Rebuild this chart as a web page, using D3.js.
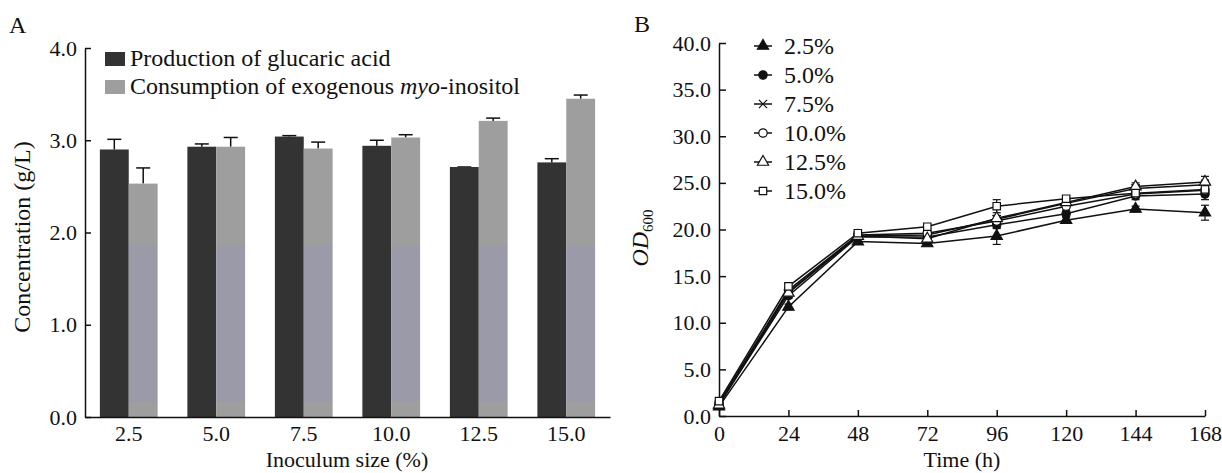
<!DOCTYPE html>
<html>
<head>
<meta charset="utf-8">
<script src="https://cdn.jsdelivr.net/npm/d3@7"></script>
<style>
  body { margin: 0; background: #fff; }
  svg { display: block; }
  svg text { font-family: "Liberation Serif", "DejaVu Serif", serif !important; fill: #111; }
</style>
</head>
<body>
<svg id="chart" width="1222" height="473"></svg>
<script>
// panel A data: inoculum size vs glucaric acid / myo-inositol (g/L)
var inoculum = ["2.5", "5.0", "7.5", "10.0", "12.5", "15.0"];
var glucaric = [2.90, 2.93, 3.04, 2.94, 2.71, 2.76];
var glucaricErr = [0.11, 0.03, 0.01, 0.06, 0.00, 0.04];
var inositol = [2.53, 2.93, 2.91, 3.03, 3.21, 3.45];
var inositolErr = [0.17, 0.10, 0.07, 0.03, 0.03, 0.04];
var barLabels = ["Production of glucaric acid", "Consumption of exogenous "];
var yTicksA = [0, 1, 2, 3, 4];

// panel B data: OD600 over time
var hours = [0, 24, 48, 72, 96, 120, 144, 168];
var od25 = [1.0, 11.7, 18.7, 18.5, 19.3, 21.0, 22.2, 21.8];
var od50 = [1.2, 12.9, 19.2, 19.2, 20.5, 21.7, 23.6, 23.8];
var od75 = [1.3, 13.3, 19.3, 19.4, 21.1, 22.8, 24.4, 24.8];
var od100 = [1.4, 13.5, 19.4, 19.6, 20.9, 22.5, 23.8, 24.2];
var od125 = [1.2, 13.2, 19.3, 19.0, 21.2, 22.9, 24.6, 25.1];
var od150 = [1.6, 13.9, 19.6, 20.3, 22.5, 23.3, 23.9, 24.3];
var err25 = [0.2, 0.3, 0.3, 0.2, 0.9, 0.3, 0.3, 0.8];
var err50 = [0.2, 0.3, 0.2, 0.2, 0.4, 0.3, 0.4, 0.6];
var err75 = [0.2, 0.3, 0.2, 0.2, 0.4, 0.3, 0.4, 0.5];
var err100 = [0.2, 0.3, 0.2, 0.2, 0.3, 0.3, 0.3, 0.5];
var err125 = [0.2, 0.3, 0.2, 0.2, 0.3, 0.3, 0.4, 0.6];
var err150 = [0.3, 0.3, 0.2, 0.2, 0.7, 0.3, 0.3, 0.7];
var seriesNames = ["2.5%", "5.0%", "7.5%", "10.0%", "12.5%", "15.0%"];
var yTicksB = [0, 5, 10, 15, 20, 25, 30, 35, 40];

var svg = d3.select("#chart");
var fmt = d3.format(".1f");
var TICK_FONT = "22px";
var FONT = "24px";
var TITLE_FONT = "22px";

// ---------- panel A ----------
var xA = d3.scaleBand().domain(inoculum).range([85, 610])
    .paddingInner(0.34).paddingOuter(0.17);
var xSub = d3.scaleBand().domain([0, 1]).range([0, xA.bandwidth()]);
var yA = d3.scaleLinear().domain([0, 4]).range([417, 48]);

// the scan has a bluish band over the lower part of the grey bars
var scanTop = 1.86, scanBottom = 0.16;
var defs = svg.append("defs");
var grad = defs.append("linearGradient").attr("id", "greyFill")
    .attr("gradientUnits", "userSpaceOnUse")
    .attr("x1", 0).attr("x2", 0).attr("y1", yA(4)).attr("y2", yA(0));
var o1 = (yA(scanTop) - yA(4)) / (yA(0) - yA(4));
var o2 = (yA(scanBottom) - yA(4)) / (yA(0) - yA(4));
[[0, "#9e9e9f"], [o1, "#9e9e9f"], [o1, "#9a9aa8"], [o2, "#9a9aa8"], [o2, "#9e9e9f"], [1, "#9e9e9f"]]
  .forEach(function(s) { grad.append("stop").attr("offset", s[0]).attr("stop-color", s[1]); });

var barColors = ["#333333", "url(#greyFill)"];
var barSeries = [
  { vals: glucaric, err: glucaricErr },
  { vals: inositol, err: inositolErr }
];

var gA = svg.append("g");
barSeries.forEach(function(s, si) {
  var grp = gA.append("g");
  var cx = function(d, i) { return xA(inoculum[i]) + xSub(si) + xSub.bandwidth() / 2; };
  grp.selectAll("line.err").data(s.vals).enter().append("line")
    .attr("x1", cx).attr("x2", cx)
    .attr("y1", function(d) { return yA(d); })
    .attr("y2", function(d, i) { return yA(d + s.err[i]); })
    .attr("stroke", "#111").attr("stroke-width", 1.5);
  grp.selectAll("line.cap").data(s.vals).enter().append("line")
    .attr("x1", function(d, i) { return cx(d, i) - 7; })
    .attr("x2", function(d, i) { return cx(d, i) + 7; })
    .attr("y1", function(d, i) { return yA(d + s.err[i]); })
    .attr("y2", function(d, i) { return yA(d + s.err[i]); })
    .attr("stroke", "#111").attr("stroke-width", 1.5);
  grp.selectAll("rect").data(s.vals).enter().append("rect")
    .attr("x", function(d, i) { return xA(inoculum[i]) + xSub(si); })
    .attr("y", function(d) { return yA(d); })
    .attr("width", xSub.bandwidth())
    .attr("height", function(d) { return yA(0) - yA(d); })
    .attr("fill", barColors[si]);
});

var axisYA = gA.append("g").attr("transform", "translate(85,0)")
  .call(d3.axisLeft(yA).tickValues(yTicksA).tickFormat(fmt)
        .tickSizeInner(-6).tickSizeOuter(0).tickPadding(8));
var axisXA = gA.append("g").attr("transform", "translate(0," + yA(0) + ")")
  .call(d3.axisBottom(xA).tickSize(0).tickPadding(8));
[axisYA, axisXA].forEach(function(a) {
  a.attr("font-family", null).attr("font-size", null);
  a.selectAll("path, line").attr("stroke", "#111").attr("stroke-width", 1.5);
  a.selectAll("text").style("font-size", TICK_FONT);
});

// legend A
barLabels.forEach(function(lab, i) {
  gA.append("rect").attr("x", 105).attr("y", 52 + i * 28).attr("width", 20).attr("height", 14)
    .attr("fill", i === 0 ? "#333333" : "#9e9e9f");
  var t = gA.append("text").attr("x", 130).attr("y", 66 + i * 28).style("font-size", FONT).text(lab);
  if (i === 1) {
    t.append("tspan").style("font-style", "italic").text("myo");
    t.append("tspan").text("-inositol");
  }
});

gA.append("text").attr("x", 9).attr("y", 33).style("font-size", FONT).text("A");
gA.append("text").attr("transform", "translate(30,237) rotate(-90)")
  .attr("text-anchor", "middle").style("font-size", FONT).text("Concentration (g/L)");
gA.append("text").attr("x", 347).attr("y", 467).attr("text-anchor", "middle")
  .style("font-size", TITLE_FONT).text("Inoculum size (%)");

// ---------- panel B ----------
var xB = d3.scaleLinear().domain([0, 168]).range([719, 1205]);
var yB = d3.scaleLinear().domain([0, 40]).range([416, 43]);
var gB = svg.append("g");

var axisYB = gB.append("g").attr("transform", "translate(719,0)")
  .call(d3.axisLeft(yB).tickValues(yTicksB).tickFormat(fmt)
        .tickSizeInner(-7).tickSizeOuter(0).tickPadding(8));
var axisXB = gB.append("g").attr("transform", "translate(0,416)")
  .call(d3.axisBottom(xB).tickValues(hours).tickFormat(d3.format("d"))
        .tickSizeInner(-6).tickSizeOuter(0).tickPadding(9));
[axisYB, axisXB].forEach(function(a) {
  a.attr("font-family", null).attr("font-size", null);
  a.selectAll("path, line").attr("stroke", "#111").attr("stroke-width", 1.5);
  a.selectAll("text").style("font-size", TICK_FONT);
});

var odSeries = [
  { vals: od25, err: err25, sym: d3.symbolTriangle, fill: "#111" },
  { vals: od50, err: err50, sym: d3.symbolCircle, fill: "#111" },
  { vals: od75, err: err75, sym: d3.symbolTimes, fill: "none" },
  { vals: od100, err: err100, sym: d3.symbolCircle, fill: "#fff" },
  { vals: od125, err: err125, sym: d3.symbolTriangle, fill: "#fff" },
  { vals: od150, err: err150, sym: d3.symbolSquare, fill: "#fff" }
];

var line = d3.line().x(function(d, i) { return xB(hours[i]); }).y(function(d) { return yB(d); });

odSeries.forEach(function(s) {
  gB.append("path").datum(s.vals).attr("d", line)
    .attr("fill", "none").attr("stroke", "#111").attr("stroke-width", 1.5);
});
odSeries.forEach(function(s) {
  var eg = gB.append("g").attr("stroke", "#111").attr("stroke-width", 1.2);
  s.vals.forEach(function(v, i) {
    var x = xB(hours[i]);
    eg.append("line").attr("x1", x).attr("x2", x).attr("y1", yB(v - s.err[i])).attr("y2", yB(v + s.err[i]));
    eg.append("line").attr("x1", x - 4).attr("x2", x + 4).attr("y1", yB(v - s.err[i])).attr("y2", yB(v - s.err[i]));
    eg.append("line").attr("x1", x - 4).attr("x2", x + 4).attr("y1", yB(v + s.err[i])).attr("y2", yB(v + s.err[i]));
  });
});
function symSize(sym) { return sym === d3.symbolTimes ? 45 : 55; }
odSeries.forEach(function(s) {
  gB.selectAll(null).data(s.vals).enter().append("path")
    .attr("d", d3.symbol().type(s.sym).size(symSize(s.sym)))
    .attr("transform", function(d, i) { return "translate(" + xB(hours[i]) + "," + yB(d) + ")"; })
    .attr("fill", s.fill).attr("stroke", "#111").attr("stroke-width", 1.2);
});

// legend B
seriesNames.forEach(function(name, i) {
  var ly = 46 + i * 29;
  var s = odSeries[i];
  gB.append("line").attr("x1", 754).attr("x2", 772).attr("y1", ly).attr("y2", ly)
    .attr("stroke", "#111").attr("stroke-width", 1.5);
  gB.append("path").attr("d", d3.symbol().type(s.sym).size(symSize(s.sym)))
    .attr("transform", "translate(763," + ly + ")")
    .attr("fill", s.fill).attr("stroke", "#111").attr("stroke-width", 1.2);
  gB.append("text").attr("x", 784).attr("y", ly + 8).style("font-size", FONT).text(name);
});

gB.append("text").attr("x", 634).attr("y", 32).style("font-size", FONT).text("B");
var odTitle = gB.append("text").attr("transform", "translate(648,238) rotate(-90)")
  .attr("text-anchor", "middle").style("font-size", FONT);
odTitle.append("tspan").style("font-style", "italic").text("OD");
odTitle.append("tspan").attr("dy", 5).style("font-size", "15px").text("600");
gB.append("text").attr("x", 962).attr("y", 467).attr("text-anchor", "middle")
  .style("font-size", TITLE_FONT).text("Time (h)");
</script>
</body>
</html>
